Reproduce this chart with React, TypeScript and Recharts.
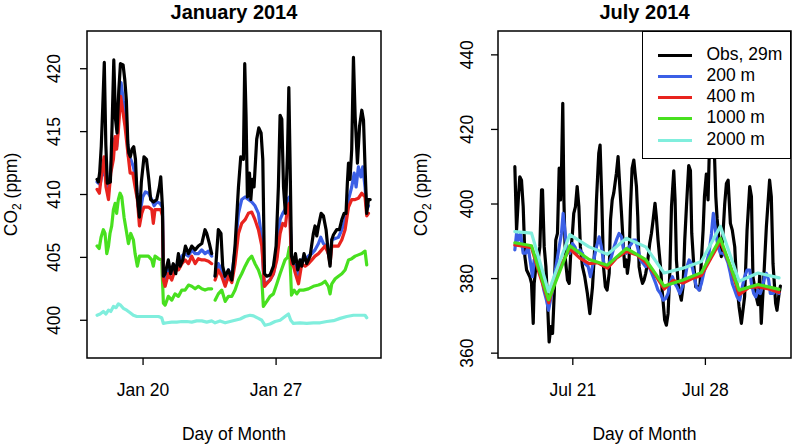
import React from 'react';
import { LineChart, Line, XAxis, YAxis, ReferenceArea, Legend, Label } from 'recharts';

const FONT = '"Liberation Sans", Arial, Helvetica, sans-serif';

const seriesNames = ['Obs, 29m', '200 m', '400 m', '1000 m', '2000 m'];
const seriesColors = ['#000000', '#3B5FE6', '#E8231E', '#48E01F', '#80EEDD'];

const janTicksX = [20, 27];
const janTickLabels = ['Jan 20', 'Jan 27'];
const julTicksX = [21, 28];
const julTickLabels = ['Jul 21', 'Jul 28'];
const janTicksY = [400, 405, 410, 415, 420];
const julTicksY = [360, 380, 400, 420, 440];
const xDomain = [17.05, 32.52];
const janYDomain = [397, 423];
const julYDomain = [358.7, 446.4];

type Pt = [number, number | null];

const janObs: Pt[] = [
  [17.58, 411.2], [17.65, 411.0], [17.72, 411.8], [17.8, 413.8], [17.88, 417.0], [17.96, 420.5], [18.04, 414.0], [18.12, 410.9],
  [18.28, 411.0], [18.37, 415.5], [18.46, 420.7], [18.55, 416.0], [18.63, 414.9], [18.72, 418.2], [18.81, 420.4], [18.95, 420.3],
  [19.04, 419.1], [19.12, 417.5], [19.2, 414.0], [19.25, 413.3], [19.33, 413.0], [19.42, 413.6], [19.51, 413.8], [19.6, 412.8],
  [19.68, 410.1], [19.81, 408.2], [19.91, 411.0], [20.05, 413.0], [20.18, 412.8], [20.3, 411.2], [20.4, 409.6], [20.55, 409.4],
  [20.72, 409.6], [20.86, 410.6], [20.93, 411.4], [21.02, 409.0], [21.07, 403.5], [21.16, 403.7], [21.33, 404.8], [21.45, 403.7],
  [21.59, 404.5], [21.72, 403.7], [21.86, 405.3], [21.95, 404.3], [22.09, 404.8], [22.23, 405.9], [22.39, 405.3], [22.56, 405.9],
  [22.74, 405.6], [22.91, 405.9], [23.09, 406.1], [23.26, 407.2], [23.35, 406.9], [23.49, 406.1], [23.61, 405.3], [23.7, null],
  [23.79, 403.5], [23.96, 407.2], [24.1, 406.9], [24.19, 404.3], [24.31, 403.5], [24.49, 404.0], [24.67, 403.2], [24.84, 405.9],
  [25.02, 410.6], [25.14, 413.0], [25.28, 412.8], [25.35, 420.4], [25.42, 416.2], [25.49, 409.8], [25.6, 411.7], [25.67, 409.6],
  [25.75, 411.2], [25.84, 410.6], [25.98, 414.4], [26.09, 415.3], [26.21, 414.9], [26.3, 412.8], [26.39, 403.7], [26.51, 403.5],
  [26.68, 403.6], [26.86, 404.3], [27.0, 405.9], [27.12, 410.6], [27.21, 416.3], [27.3, 416.0], [27.39, 410.6], [27.49, 408.5],
  [27.6, 413.3], [27.67, 418.5], [27.74, 412.2], [27.81, 405.1], [27.91, 404.5], [28.02, 405.3], [28.14, 404.0], [28.26, 404.8],
  [28.35, 404.3], [28.47, 405.3], [28.61, 404.5], [28.79, 405.1], [28.96, 406.9], [29.05, 407.5], [29.14, 406.7], [29.23, 407.5],
  [29.37, 408.5], [29.49, 408.3], [29.63, 407.2], [29.75, 405.3], [29.84, 404.3], [29.93, 406.4], [30.02, 406.8], [30.19, 407.2],
  [30.33, 407.2], [30.46, 408.0], [30.58, 408.5], [30.68, 408.5], [30.75, 410.9], [30.81, 412.5], [30.89, 411.2], [30.98, 413.6],
  [31.07, 420.9], [31.16, 416.2], [31.28, 412.5], [31.39, 415.4], [31.51, 416.7], [31.6, 415.9], [31.68, 412.2], [31.77, 408.5],
  [31.86, 409.6], [31.95, 409.6],
];

const jan200: Pt[] = [
  [17.58, 411.0], [17.74, 410.8], [17.91, 412.2], [18.05, 411.2], [18.18, 410.2], [18.35, 412.8], [18.47, 414.4], [18.61, 413.8],
  [18.74, 416.7], [18.84, 418.9], [18.96, 417.5], [19.11, 416.2], [19.23, 413.0], [19.35, 412.8], [19.49, 412.2], [19.63, 411.2],
  [19.74, 409.1], [19.84, 408.5], [19.98, 409.8], [20.12, 410.2], [20.28, 410.1], [20.46, 409.6], [20.58, 409.1], [20.72, 409.4],
  [20.89, 409.3], [21.02, 409.0], [21.07, 403.5], [21.16, 403.0], [21.33, 404.0], [21.51, 403.7], [21.68, 404.3], [21.86, 404.5],
  [22.04, 405.1], [22.21, 405.3], [22.39, 405.1], [22.56, 405.6], [22.74, 405.3], [22.91, 405.3], [23.09, 405.6], [23.26, 405.3],
  [23.44, 405.5], [23.61, 405.1], [23.7, null], [23.79, 403.5], [23.96, 404.5], [24.14, 404.0], [24.32, 403.2], [24.49, 404.0],
  [24.67, 403.5], [24.84, 405.6], [25.02, 408.5], [25.19, 409.6], [25.37, 409.8], [25.54, 409.6], [25.72, 409.4], [25.89, 409.1],
  [26.07, 408.5], [26.25, 406.4], [26.37, 402.8], [26.51, 403.0], [26.68, 403.2], [26.86, 403.7], [27.04, 405.1], [27.21, 408.0],
  [27.35, 408.5], [27.47, 408.8], [27.6, 409.6], [27.7, 409.8], [27.81, 405.1], [27.91, 404.5], [28.02, 404.3], [28.18, 403.5],
  [28.35, 404.8], [28.53, 404.8], [28.7, 405.1], [28.88, 405.3], [29.05, 405.6], [29.23, 406.1], [29.35, 406.6], [29.49, 406.1],
  [29.63, 405.9], [29.75, 405.3], [29.84, 404.8], [29.93, 406.4], [30.11, 406.5], [30.28, 406.6], [30.46, 407.2], [30.63, 408.0],
  [30.81, 409.6], [30.98, 410.6], [31.11, 411.7], [31.21, 410.6], [31.33, 412.2], [31.46, 411.4], [31.56, 412.2], [31.68, 410.6],
  [31.77, 408.8], [31.86, 409.1],
];

const jan400: Pt[] = [
  [17.58, 410.4], [17.7, 410.1], [17.82, 411.7], [17.95, 413.0], [18.05, 410.6], [18.18, 409.6], [18.3, 411.7], [18.44, 412.8],
  [18.53, 414.6], [18.61, 413.6], [18.7, 415.1], [18.82, 417.8], [18.93, 416.7], [19.05, 415.4], [19.18, 413.6], [19.32, 411.7],
  [19.46, 411.7], [19.58, 410.6], [19.7, 409.6], [19.81, 407.5], [19.93, 408.5], [20.05, 409.0], [20.28, 409.0], [20.46, 408.8],
  [20.54, 407.7], [20.63, 408.8], [20.81, 408.8], [20.93, 408.8], [21.02, 408.3], [21.07, 403.2], [21.16, 402.7], [21.33, 403.7],
  [21.51, 403.2], [21.68, 404.0], [21.86, 404.0], [22.04, 404.5], [22.21, 404.8], [22.39, 404.5], [22.56, 405.1], [22.74, 404.5],
  [22.91, 404.9], [23.09, 404.8], [23.26, 404.8], [23.44, 404.7], [23.61, 404.5], [23.7, null], [23.79, 403.2], [23.96, 404.0],
  [24.14, 403.5], [24.32, 402.7], [24.49, 403.5], [24.67, 403.0], [24.84, 404.5], [25.02, 406.9], [25.19, 407.7], [25.37, 408.0],
  [25.54, 408.5], [25.72, 408.6], [25.89, 408.0], [26.07, 407.2], [26.25, 405.9], [26.39, 402.7], [26.51, 402.9], [26.68, 403.2],
  [26.86, 403.7], [27.04, 404.8], [27.21, 406.9], [27.35, 407.7], [27.49, 407.5], [27.6, 409.0], [27.7, 409.3], [27.81, 404.5],
  [27.91, 404.3], [28.02, 403.7], [28.18, 402.9], [28.35, 404.5], [28.53, 404.3], [28.7, 404.5], [28.88, 404.8], [29.05, 405.1],
  [29.23, 405.3], [29.4, 405.6], [29.58, 405.9], [29.75, 405.3], [29.84, 404.5], [29.93, 405.9], [30.11, 405.9], [30.28, 405.9],
  [30.46, 406.4], [30.63, 407.2], [30.81, 409.0], [30.98, 409.6], [31.16, 409.6], [31.33, 409.7], [31.51, 410.1], [31.68, 409.8],
  [31.77, 408.3], [31.86, 408.5],
];

const jan1000: Pt[] = [
  [17.58, 405.9], [17.69, 405.7], [17.79, 406.6], [17.91, 407.2], [18.0, 406.9], [18.09, 405.3], [18.18, 405.9], [18.26, 406.9],
  [18.35, 407.5], [18.44, 408.8], [18.53, 409.3], [18.61, 408.5], [18.7, 409.6], [18.79, 410.1], [18.88, 409.8], [19.0, 408.2],
  [19.11, 407.2], [19.23, 406.1], [19.35, 406.9], [19.49, 406.4], [19.58, 405.3], [19.7, 404.3], [19.81, 405.1], [20.02, 405.1],
  [20.28, 405.1], [20.46, 404.8], [20.54, 404.3], [20.63, 405.1], [20.81, 404.9], [20.98, 404.8], [21.07, 401.35], [21.16, 401.2],
  [21.33, 401.9], [21.51, 401.6], [21.68, 402.1], [21.86, 401.9], [22.04, 402.4], [22.21, 402.4], [22.39, 402.8], [22.56, 402.7],
  [22.74, 402.5], [22.91, 402.7], [23.09, 402.5], [23.26, 402.4], [23.44, 402.5], [23.61, 402.5], [23.7, null], [23.79, 401.6],
  [23.96, 402.1], [24.14, 402.4], [24.32, 401.5], [24.49, 401.9], [24.67, 401.9], [24.84, 402.4], [25.02, 403.2], [25.19, 403.7],
  [25.37, 404.3], [25.54, 404.8], [25.72, 405.1], [25.89, 404.5], [26.07, 404.0], [26.25, 403.2], [26.33, 401.1], [26.51, 401.5],
  [26.68, 401.9], [26.86, 402.1], [27.04, 402.9], [27.21, 403.7], [27.35, 404.3], [27.47, 404.8], [27.6, 405.0], [27.7, 405.8],
  [27.77, 403.5], [27.81, 402.0], [27.95, 402.4], [28.09, 402.1], [28.23, 402.4], [28.44, 402.4], [28.7, 402.5], [28.96, 402.7],
  [29.23, 402.8], [29.4, 402.9], [29.58, 403.1], [29.75, 402.7], [29.84, 402.1], [29.93, 402.9], [30.11, 403.3], [30.28, 403.5],
  [30.46, 403.7], [30.63, 404.0], [30.81, 404.8], [30.98, 404.9], [31.16, 405.1], [31.33, 405.2], [31.51, 405.3], [31.68, 405.5],
  [31.77, 404.4],
];

const jan2000: Pt[] = [
  [17.58, 400.4], [17.74, 400.5], [17.91, 400.7], [18.05, 400.5], [18.18, 400.8], [18.3, 400.7], [18.44, 401.1], [18.58, 401.0],
  [18.7, 401.3], [18.82, 401.2], [18.96, 400.95], [19.14, 400.8], [19.32, 400.6], [19.49, 400.4], [19.67, 400.3], [19.84, 400.3],
  [20.02, 400.3], [20.19, 400.3], [20.37, 400.3], [20.54, 400.3], [20.81, 400.3], [20.98, 400.2], [21.07, 399.75], [21.25, 399.8],
  [21.51, 399.85], [21.77, 399.85], [22.04, 399.9], [22.3, 399.9], [22.56, 399.85], [22.82, 399.95], [23.09, 399.95], [23.35, 399.85],
  [23.61, 399.95], [23.79, 399.8], [24.05, 399.95], [24.32, 399.8], [24.58, 399.9], [24.84, 400.0], [25.11, 400.1], [25.37, 400.3],
  [25.63, 400.4], [25.81, 400.35], [26.07, 400.15], [26.25, 400.0], [26.42, 399.6], [26.68, 399.7], [26.95, 399.9], [27.21, 400.0],
  [27.47, 400.3], [27.65, 400.5], [27.77, 400.0], [27.91, 399.75], [28.26, 399.8], [28.61, 399.75], [28.96, 399.8], [29.32, 399.8],
  [29.67, 399.9], [30.02, 399.97], [30.37, 400.15], [30.72, 400.3], [31.07, 400.4], [31.42, 400.4], [31.68, 400.4], [31.77, 400.2],
];

const julObs: Pt[] = [
  [17.94, 410.0], [18.03, 393.0], [18.12, 401.1], [18.2, 407.3], [18.29, 406.4], [18.38, 399.3], [18.47, 385.9], [18.56, 382.3],
  [18.73, 380.5], [18.82, 378.7], [18.91, 368.0], [18.96, 378.7], [19.05, 383.2], [19.17, 385.0], [19.26, 388.5], [19.35, 403.8],
  [19.4, 403.8], [19.49, 388.5], [19.58, 383.2], [19.66, 374.2], [19.75, 363.0], [19.84, 367.1], [19.93, 365.3], [20.02, 376.0],
  [20.1, 390.3], [20.19, 392.1], [20.28, 409.6], [20.35, 401.1], [20.4, 408.2], [20.47, 427.0], [20.53, 401.1], [20.61, 385.0],
  [20.72, 379.6], [20.81, 378.7], [20.89, 386.8], [20.98, 392.1], [21.05, 397.5], [21.14, 399.3], [21.23, 404.7], [21.32, 399.3],
  [21.4, 388.5], [21.51, 383.2], [21.63, 380.5], [21.77, 376.0], [21.9, 370.6], [22.04, 377.8], [22.16, 388.5], [22.25, 401.1],
  [22.37, 413.6], [22.44, 415.8], [22.53, 401.1], [22.62, 383.2], [22.72, 377.8], [22.81, 376.9], [22.92, 381.4], [22.99, 395.7],
  [23.08, 401.1], [23.16, 402.9], [23.3, 408.2], [23.39, 412.7], [23.48, 404.7], [23.57, 397.5], [23.66, 389.4], [23.74, 383.2],
  [23.83, 385.0], [23.88, 381.4], [23.97, 385.0], [24.04, 398.4], [24.13, 409.6], [24.22, 411.8], [24.29, 408.2], [24.36, 404.7],
  [24.43, 396.6], [24.5, 383.2], [24.59, 380.5], [24.68, 378.7], [24.76, 379.6], [24.85, 381.4], [24.94, 384.1], [25.06, 389.4],
  [25.15, 392.1], [25.24, 395.7], [25.34, 400.2], [25.41, 396.6], [25.5, 390.3], [25.63, 383.2], [25.73, 376.0], [25.85, 368.9],
  [25.94, 367.5], [26.03, 370.6], [26.12, 381.4], [26.21, 399.3], [26.33, 408.9], [26.4, 401.1], [26.47, 385.0], [26.56, 378.7],
  [26.65, 376.0], [26.73, 374.2], [26.82, 377.8], [26.91, 390.3], [27.0, 399.3], [27.12, 410.3], [27.21, 409.0], [27.28, 392.1],
  [27.38, 384.1], [27.49, 377.8], [27.61, 377.8], [27.7, 377.0], [27.79, 385.0], [27.88, 393.0], [27.95, 402.0], [28.05, 408.0],
  [28.14, 401.1], [28.2, 412.5], [28.27, 419.0], [28.35, 415.0], [28.43, 421.0], [28.55, 402.0], [28.62, 396.0], [28.72, 390.3],
  [28.84, 385.9], [28.93, 392.0], [29.02, 400.0], [29.11, 405.5], [29.2, 406.4], [29.32, 394.8], [29.42, 393.0], [29.55, 388.5],
  [29.64, 379.6], [29.78, 372.4], [29.9, 368.0], [30.07, 375.1], [30.2, 393.0], [30.34, 404.7], [30.43, 402.0], [30.51, 380.5],
  [30.69, 375.0], [30.78, 373.0], [30.87, 381.0], [30.95, 368.0], [31.08, 380.0], [31.22, 393.9], [31.39, 406.4], [31.48, 402.0],
  [31.57, 384.0], [31.71, 373.3], [31.78, 371.5], [31.89, 376.0], [31.96, 378.0],
];

const jul200: Pt[] = [
  [17.94, 387.7], [18.03, 392.1], [18.12, 390.3], [18.24, 392.1], [18.38, 386.8], [18.52, 386.8], [18.64, 388.5], [18.77, 384.1],
  [18.87, 380.5], [18.96, 385.0], [19.08, 385.9], [19.22, 383.2], [19.35, 380.5], [19.47, 376.9], [19.61, 374.2], [19.72, 371.5],
  [19.82, 374.2], [19.93, 376.9], [20.05, 381.4], [20.14, 384.1], [20.28, 388.5], [20.4, 392.1], [20.49, 397.5], [20.58, 393.0],
  [20.67, 388.5], [20.84, 386.8], [20.98, 389.4], [21.11, 388.5], [21.23, 386.8], [21.37, 387.7], [21.51, 386.8], [21.63, 384.1],
  [21.81, 383.2], [21.93, 380.5], [22.07, 384.1], [22.25, 388.5], [22.39, 391.2], [22.51, 388.5], [22.64, 384.1], [22.78, 383.2],
  [22.92, 384.1], [23.04, 385.9], [23.18, 388.5], [23.3, 390.3], [23.44, 392.1], [23.57, 391.2], [23.69, 387.7], [23.83, 386.8],
  [23.97, 388.5], [24.1, 389.4], [24.18, 390.3], [24.32, 390.3], [24.45, 387.7], [24.57, 385.0], [24.71, 384.1], [24.85, 383.2],
  [24.97, 384.1], [25.1, 382.3], [25.24, 380.5], [25.38, 378.7], [25.5, 376.9], [25.63, 376.0], [25.77, 374.2], [25.91, 374.7],
  [26.03, 376.0], [26.15, 379.2], [26.26, 380.5], [26.38, 378.7], [26.5, 377.8], [26.65, 376.0], [26.79, 377.8], [26.91, 379.6],
  [27.03, 383.2], [27.14, 385.0], [27.26, 384.1], [27.38, 381.4], [27.52, 377.8], [27.67, 376.9], [27.79, 378.7], [27.91, 381.4],
  [28.05, 384.1], [28.19, 386.8], [28.32, 392.1], [28.42, 397.5], [28.53, 393.0], [28.67, 388.5], [28.79, 386.8], [28.93, 386.8],
  [29.07, 385.9], [29.2, 384.1], [29.32, 381.4], [29.42, 378.7], [29.55, 376.9], [29.67, 375.1], [29.81, 374.2], [29.95, 377.8],
  [30.07, 380.5], [30.2, 382.3], [30.34, 382.3], [30.43, 378.7], [30.55, 376.0], [30.66, 375.1], [30.78, 376.9], [30.9, 376.0],
  [31.01, 377.8], [31.13, 380.5], [31.22, 381.4], [31.34, 379.6], [31.43, 376.0], [31.57, 376.0], [31.75, 376.9], [31.89, 376.0],
];

const jul400: Pt[] = [
  [17.94, 389.0], [18.38, 388.7], [18.82, 388.3], [19.22, 381.5], [19.73, 373.5], [20.2, 382.0], [20.84, 388.0], [21.37, 385.5],
  [21.86, 384.0], [22.3, 384.3], [22.83, 382.8], [23.3, 385.5], [23.83, 387.3], [24.4, 386.3], [24.85, 384.3], [25.35, 381.0],
  [25.82, 377.2], [26.3, 379.5], [26.82, 378.8], [27.3, 380.0], [27.79, 380.8], [28.3, 385.5], [28.79, 390.0], [29.3, 383.5],
  [29.78, 375.7], [30.3, 377.6], [30.78, 377.8], [31.35, 377.2], [31.89, 376.3],
];

const jul1000: Pt[] = [
  [17.94, 389.6], [18.82, 388.8], [19.72, 374.3], [20.84, 388.8], [21.86, 385.1], [22.83, 383.6], [23.83, 388.1], [24.85, 385.1],
  [25.82, 378.0], [26.82, 379.6], [27.79, 381.6], [28.79, 390.8], [29.78, 376.9], [30.78, 378.4], [31.89, 377.1],
];

const jul2000: Pt[] = [
  [17.94, 392.6], [18.82, 392.2], [19.72, 376.5], [20.84, 391.8], [21.86, 388.5], [22.83, 386.5], [23.83, 390.8], [24.85, 388.5],
  [25.82, 381.5], [26.82, 382.8], [27.79, 384.6], [28.79, 394.0], [29.78, 379.3], [30.78, 381.5], [31.89, 380.2],
];

const rows = (arr: Pt[]) => arr.map(([d, v]) => ({ d, v }));

const makeXTick = (ticks: number[], labels: string[]) => (props: any) => {
  const { x, y, payload } = props;
  const i = ticks.indexOf(payload.value);
  return (
    <text x={x} y={y} dy={29} textAnchor="middle" fontSize={17.5} fontFamily={FONT} fill="#000">
      {labels[i]}
    </text>
  );
};

const makeYTick = (off: number) => (props: any) => {
  const { x, y, payload } = props;
  const cx = x - off;
  return (
    <text x={cx} y={y} dy="0.35em" transform={`rotate(-90, ${cx}, ${y})`} textAnchor="middle" fontSize={17.5} fontFamily={FONT} fill="#000">
      {payload.value}
    </text>
  );
};

const xTitle = (props: any) => {
  const vb = props.viewBox || {};
  return (
    <text x={vb.x + vb.width / 2} y={439.5} textAnchor="middle" fontSize={17.5} fontFamily={FONT} fill="#000">
      Day of Month
    </text>
  );
};

const makeYTitle = (cx: number) => (props: any) => {
  const vb = props.viewBox || {};
  const cy = vb.y + vb.height / 2;
  return (
    <text x={cx} y={cy} dy="0.35em" transform={`rotate(-90, ${cx}, ${cy})`} textAnchor="middle" fontSize={17.5} fontFamily={FONT} fill="#000">
      CO<tspan dy={4} fontSize={12}>2</tspan>
      <tspan dy={-4}> (ppm)</tspan>
    </text>
  );
};

const LegendBox = () => (
  <div
    style={{
      width: 149,
      height: 128,
      boxSizing: 'border-box',
      border: '1.5px solid #000',
      background: '#fff',
      position: 'relative',
      fontFamily: FONT,
      fontSize: 17.5,
      color: '#000',
    }}
  >
    {seriesNames.map((n, i) => (
      <div key={n}>
        <div
          style={{
            position: 'absolute',
            left: 15,
            top: 21.5 + i * 21.25,
            width: 34,
            height: 3,
            background: seriesColors[i],
          }}
        />
        <div
          style={{
            position: 'absolute',
            left: 63.5,
            top: 11.5 + i * 21.25,
            lineHeight: '21px',
            whiteSpace: 'nowrap',
          }}
        >
          {n}
        </div>
      </div>
    ))}
  </div>
);

type PanelProps = {
  series: Pt[][];
  order: number[];
  xTicks: number[];
  xLabels: string[];
  yTicks: number[];
  yDomain: number[];
  width: number;
  marginLeft: number;
  marginRight: number;
  yTickOff: number;
  yTitleX: number;
  legend?: boolean;
};

const Panel = (p: PanelProps) => (
  <LineChart
    width={p.width}
    height={445}
    margin={{ top: 31, right: p.marginRight, bottom: 27, left: p.marginLeft }}
  >
    <XAxis
      type="number"
      dataKey="d"
      domain={xDomain}
      allowDataOverflow
      ticks={p.xTicks}
      interval={0}
      height={60}
      tickSize={7}
      tickMargin={2}
      axisLine={false}
      tickLine={{ stroke: '#000', strokeWidth: 1.3 }}
      tick={makeXTick(p.xTicks, p.xLabels)}
      label={<Label content={xTitle} />}
    />
    <YAxis
      type="number"
      dataKey="v"
      domain={p.yDomain}
      allowDataOverflow
      ticks={p.yTicks}
      interval={0}
      width={60}
      tickSize={7}
      tickMargin={2}
      axisLine={false}
      tickLine={{ stroke: '#000', strokeWidth: 1.3 }}
      tick={makeYTick(p.yTickOff)}
      label={<Label content={makeYTitle(p.yTitleX)} />}
    />
    {p.order.map((i) => (
      <Line
        key={seriesNames[i]}
        name={seriesNames[i]}
        data={rows(p.series[i])}
        dataKey="v"
        type="linear"
        stroke={seriesColors[i]}
        strokeWidth={3.2}
        strokeLinejoin="round"
        strokeLinecap="round"
        dot={false}
        activeDot={false}
        connectNulls={false}
        isAnimationActive={false}
      />
    ))}
    <ReferenceArea
      x1={xDomain[0]}
      x2={xDomain[1]}
      y1={p.yDomain[0]}
      y2={p.yDomain[1]}
      fill="none"
      stroke="#000"
      strokeWidth={1.5}
      ifOverflow="visible"
    />
    {p.legend ? (
      <Legend
        layout="vertical"
        align="center"
        verticalAlign="middle"
        wrapperStyle={{ position: 'absolute', left: 242, top: 31, width: 149, height: 128, right: 'auto', bottom: 'auto', margin: 0 }}
        content={() => <LegendBox />}
      />
    ) : null}
  </LineChart>
);

const titleStyle = (left: number, width: number): React.CSSProperties => ({
  position: 'absolute',
  left,
  width,
  top: 2,
  textAlign: 'center',
  fontFamily: FONT,
  fontWeight: 'bold',
  fontSize: 20,
  lineHeight: '20px',
  color: '#000',
  whiteSpace: 'nowrap',
});

export default function App() {
  return (
    <div style={{ position: 'absolute', left: 0, top: 0, width: 793, height: 445, background: '#fff', overflow: 'hidden' }}>
      <div style={{ position: 'absolute', left: 0, top: 0 }}>
        <Panel
          series={[janObs, jan200, jan400, jan1000, jan2000]}
          order={[4, 3, 1, 2, 0]}
          xTicks={janTicksX}
          xLabels={janTickLabels}
          yTicks={janTicksY}
          yDomain={janYDomain}
          width={400}
          marginLeft={27}
          marginRight={19}
          yTickOff={24}
          yTitleX={11}
        />
      </div>
      <div style={{ position: 'absolute', left: 400, top: 0 }}>
        <Panel
          series={[julObs, jul200, jul400, jul1000, jul2000]}
          order={[0, 1, 2, 3, 4]}
          xTicks={julTicksX}
          xLabels={julTickLabels}
          yTicks={julTicksY}
          yDomain={julYDomain}
          width={393}
          marginLeft={38}
          marginRight={2}
          yTickOff={22}
          yTitleX={21}
          legend
        />
      </div>
      <div style={titleStyle(87, 294)}>January 2014</div>
      <div style={titleStyle(498, 293)}>July 2014</div>
    </div>
  );
}
